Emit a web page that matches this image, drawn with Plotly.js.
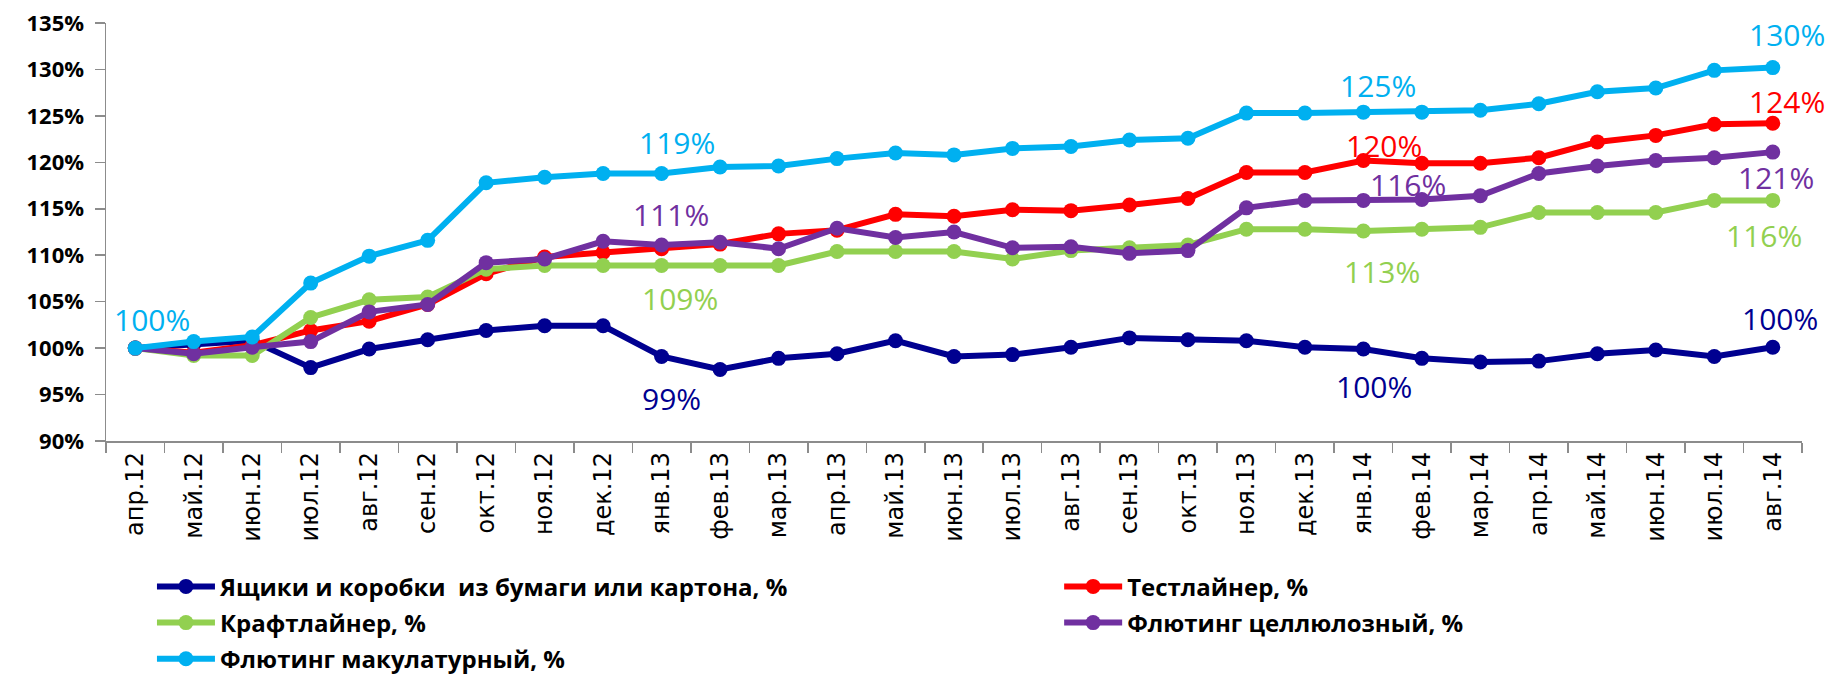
<!DOCTYPE html>
<html>
<head>
<meta charset="utf-8">
<script src="https://cdn.plot.ly/plotly-3.0.1.min.js"></script>
<style>html,body{margin:0;padding:0;background:#fff;}#chart{width:1826px;height:678px;}</style>
</head>
<body>
<div id="chart"></div>
<script>
const months = ["апр.12","май.12","июн.12","июл.12","авг.12","сен.12","окт.12","ноя.12","дек.12",
  "янв.13","фев.13","мар.13","апр.13","май.13","июн.13","июл.13","авг.13","сен.13","окт.13","ноя.13","дек.13",
  "янв.14","фев.14","мар.14","апр.14","май.14","июн.14","июл.14","авг.14"];

const boxes = [100,100.4,100.8,97.9,99.9,100.9,101.9,102.4,102.4,99.1,97.7,98.9,99.4,100.8,99.1,99.3,100.1,101.1,100.9,100.8,100.1,99.9,98.9,98.5,98.6,99.4,99.8,99.1,100.1];
const testliner = [100,99.5,100.3,101.9,102.9,104.7,108.0,109.8,110.3,110.7,111.2,112.3,112.7,114.4,114.2,114.9,114.8,115.4,116.1,118.9,118.9,120.2,119.9,119.9,120.5,122.2,122.9,124.1,124.2];
const kraftliner = [100,99.2,99.2,103.3,105.2,105.5,108.5,108.9,108.9,108.9,108.9,108.9,110.4,110.4,110.4,109.6,110.5,110.8,111.1,112.8,112.8,112.6,112.8,113.0,114.6,114.6,114.6,115.9,115.9];
const flutingCell = [100,99.4,100.1,100.7,103.9,104.7,109.2,109.6,111.5,111.1,111.4,110.7,112.9,111.9,112.5,110.8,110.9,110.2,110.5,115.1,115.9,115.9,116.0,116.4,118.8,119.6,120.2,120.5,121.1];
const flutingWaste = [100,100.7,101.2,107.0,109.9,111.6,117.8,118.4,118.8,118.8,119.5,119.6,120.4,121.0,120.8,121.5,121.7,122.4,122.6,125.3,125.3,125.4,125.4,125.6,126.3,127.6,128.0,129.9,130.2];

const names = ["Ящики и коробки  из бумаги или картона, %","Тестлайнер, %","Крафтлайнер, %","Флютинг целлюлозный, %","Флютинг макулатурный, %"];
const colors = ["#000090","#FF0000","#92D050","#7030A0","#00B0F0"];
const seriesData = [boxes, testliner, kraftliner, flutingCell, flutingWaste];
const legendOf = ["legend","legend2","legend","legend2","legend"];

// data labels: [series index, month index, xshift, yshift]
const labelSpecs = [
  [4,0,17,29],
  [4,9,15,31],[3,9,9,31],[2,9,18,-33],[0,9,10,-42],
  [4,21,15,27],[1,21,21,15],[3,21,45,16],[2,21,19,-40],[0,21,11,-37],
  [4,28,14,33],[1,28,14,22],[3,28,3,-25],[2,28,-9,-35],[0,28,7,29]
];

const traces = seriesData.map((d,i)=>({
  type:"scatter", mode:"lines+markers", x:months, y:d, name:names[i],
  legend:legendOf[i], legendgroup:"g"+i,
  line:{color:colors[i], width:6}, marker:{color:colors[i], size:15},
  cliponaxis:false
}));

const annotations = labelSpecs.map(s=>({
  x: months[s[1]], y: seriesData[s[0]][s[1]], xref:"x", yref:"y",
  text: Math.round(seriesData[s[0]][s[1]]) + "%", showarrow:false,
  xshift:s[2], yshift:s[3],
  font:{family:"Open Sans", size:30, color:colors[s[0]]}
}));

const legendFont = {family:"Open Sans", size:24, color:"#000", weight:"bold"};

const layout = {
  width:1826, height:678,
  margin:{l:106, r:24, t:23, b:237, autoexpand:false},
  paper_bgcolor:"#fff", plot_bgcolor:"#fff",
  showlegend:true,
  xaxis:{type:"category", range:[-0.5,28.5], showgrid:false, zeroline:false, automargin:false,
    showline:true, linecolor:"#8c8c8c", linewidth:1.5,
    ticks:"outside", tickson:"boundaries", ticklen:10, tickcolor:"#8c8c8c", tickwidth:1.5,
    tickangle:-90, tickfont:{family:"DejaVu Sans", size:24, color:"#000"}},
  yaxis:{range:[90,135], dtick:5, tick0:90, ticksuffix:"%", showgrid:false, zeroline:false, automargin:false,
    showline:true, linecolor:"#8c8c8c", linewidth:1.5,
    ticks:"outside", ticklen:10, tickcolor:"#8c8c8c", tickwidth:1.5, ticklabelstandoff:6,
    tickfont:{family:"Open Sans", size:22, color:"#000", weight:"bold"}},
  legend:{orientation:"v", x:0.0271, xanchor:"left", y:-0.295, yanchor:"top",
    itemwidth:58, tracegroupgap:2, font:legendFont, bgcolor:"rgba(0,0,0,0)"},
  legend2:{orientation:"v", x:0.562, xanchor:"left", y:-0.295, yanchor:"top",
    itemwidth:58, tracegroupgap:2, font:legendFont, bgcolor:"rgba(0,0,0,0)"},
  annotations: annotations
};

Plotly.newPlot("chart", traces, layout, {displayModeBar:false, staticPlot:true});
</script>
</body>
</html>
